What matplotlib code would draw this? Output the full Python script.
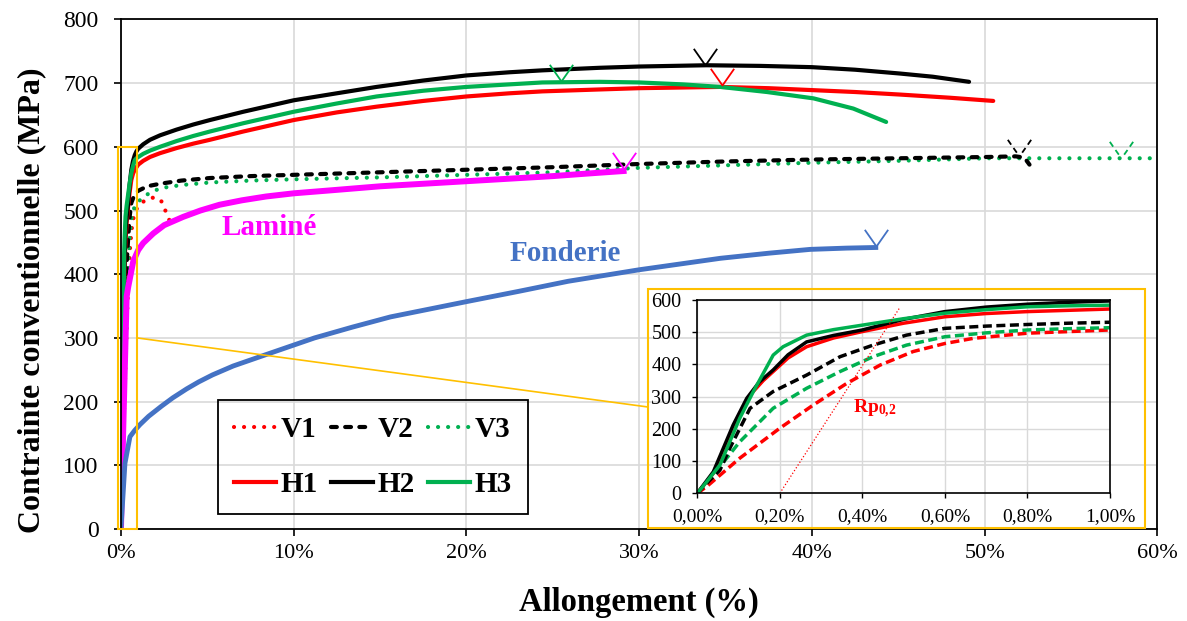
import matplotlib.pyplot as plt
from matplotlib.path import Path
from matplotlib.patches import Rectangle, ConnectionPatch
from matplotlib.lines import Line2D

plt.rcParams['font.family'] = ['Liberation Serif', 'DejaVu Serif']
plt.rcParams['mathtext.fontset'] = 'custom'
plt.rcParams['mathtext.rm'] = 'Liberation Serif'
plt.rcParams['mathtext.bf'] = 'Liberation Serif:bold'

# strain (%) / stress (MPa)
h1_x = [0, 0.039, 0.087, 0.128, 0.16, 0.184, 0.22, 0.265, 0.33, 0.4, 0.5, 0.6, 0.7, 0.8, 0.9, 1.0, 1.29, 1.68, 2.26, 3.22, 4.19,
        5.15, 7.08, 10, 12.5, 14.8, 17.5, 20, 22.5, 24.4, 27.7, 30, 34.7, 37.5, 40, 42.5, 45.1, 48, 50.5]
h1_y = [0, 62, 202, 305, 350, 378, 420, 455, 482, 502, 528, 548, 558, 564, 568, 572, 578, 584, 590, 598, 605,
        611, 624, 642, 654, 663, 672, 679, 684, 687, 690, 692, 694, 692, 689, 686, 682, 677, 672]
h2_x = [0, 0.039, 0.087, 0.12, 0.15, 0.184, 0.22, 0.265, 0.33, 0.4, 0.5, 0.6, 0.7, 0.8, 0.9, 1.0, 1.29, 1.68, 2.26, 3.22, 4.19,
        5.15, 7.08, 10, 12.5, 14.8, 17.5, 20, 22.5, 24.4, 27.7, 30, 33.9, 37, 40, 42.5, 45.1, 47, 49.1]
h2_y = [0, 67, 212, 295, 345, 383, 430, 470, 490, 507, 540, 564, 578, 587, 593, 597, 604, 611, 618, 627, 635,
        642, 655, 673, 684, 694, 704, 712, 717, 720, 724, 726, 728, 727, 725, 721, 715, 710, 702]
h3_x = [0, 0.023, 0.055, 0.103, 0.136, 0.184, 0.208, 0.265, 0.33, 0.4, 0.5, 0.6, 0.7, 0.8, 0.9, 1.0, 1.29, 1.68, 2.26, 3.22, 4.19,
        5.15, 7.08, 10, 12.5, 14.8, 17.5, 20, 22.5, 24.4, 27.7, 30, 32.5, 34.7, 37.4, 40.1, 42.4, 44.3]
h3_y = [0, 36, 88, 233, 316, 429, 455, 491, 508, 522, 542, 559, 570, 579, 582, 584, 589, 594, 600, 609, 617,
        624, 637, 655, 668, 679, 688, 694, 698, 701, 702, 701, 698, 694, 686, 676, 660, 639]
v1_x = [0, 0.023, 0.103, 0.2, 0.281, 0.362, 0.443, 0.523, 0.6, 0.669, 0.8, 1.0, 1.3, 1.58, 1.97, 2.36, 2.6, 2.8]
v1_y = [0, 21, 109, 202, 274, 341, 398, 440, 465, 481, 497, 507, 514, 518, 521, 514, 498, 485]
v2_x = [0, 0.023, 0.055, 0.079, 0.128, 0.184, 0.265, 0.346, 0.426, 0.507, 0.6, 0.7, 0.8, 0.9, 1.0, 1.3, 1.7, 2.26, 3.0,
        3.5, 5.15, 7.5, 10, 15, 20, 25, 30, 35, 40, 45, 50.1, 51.8, 52.3, 52.6]
v2_y = [0, 31, 72, 140, 264, 316, 367, 424, 460, 491, 512, 519, 524, 528, 531, 535, 539, 542, 545,
        547, 551, 554, 556, 560, 564, 568, 573, 577, 580, 582, 584, 585, 583, 572]
v3_x = [0, 0.055, 0.103, 0.184, 0.265, 0.346, 0.426, 0.507, 0.6, 0.7, 0.8, 0.9, 1.0, 1.5, 2.26, 3.5, 5.15, 7.5, 10, 15,
        20, 25, 30, 35, 40, 45, 50.1, 55, 60]
v3_y = [0, 83, 160, 264, 326, 378, 424, 460, 486, 498, 507, 511, 514, 525, 535, 540, 544, 547, 549, 552,
        556, 560, 567, 571, 575, 578, 582, 582, 582]
lam_x = [0, 0.13, 0.33, 0.42, 0.71, 1.0, 1.29, 1.87, 2.5, 3.6, 4.6, 5.7, 7.0, 8.4, 10, 12.3, 15, 17.5, 20, 22.5, 25, 27, 29.1]
lam_y = [0, 155, 365, 380, 420, 438, 449, 464, 477, 490, 500, 509, 516, 522, 527, 532, 538, 542, 546, 550, 554, 558, 562]
fon_x = [0, 0.23, 0.52, 0.8, 1.1, 1.6, 2.35, 3.0, 3.8, 4.5, 5.3, 6.5, 8.2, 9.7, 11.2, 13.4, 15.6, 17.8, 20, 23, 25.9,
         30, 34.7, 37.5, 39.9, 42, 43.7]
fon_y = [0, 103, 145, 155, 164, 177, 193, 206, 220, 231, 242, 256, 272, 286, 300, 317, 333, 345, 357, 373, 389,
         407, 425, 433, 439, 441, 442]

# rupture / UTS marks
uts = {'H1': (34.8, 697), 'H2': (33.8, 728), 'H3': (25.5, 703), 'V2': (52.0, 586),
       'V3': (57.9, 583), 'Lam': (29.1, 565), 'Fon': (43.7, 445)}

rp_x = [0.2, 0.49]
rp_y = [0, 575]

RED, BLACK, GREEN = '#FF0000', '#000000', '#00B050'
MAG, BLUE, GOLD, GRID = '#FF00FF', '#4472C4', '#FFC000', '#D9D9D9'

dot = (0, (0.01, 2.4))
dash_main = (0, (1.4, 2.0))

v_solid = Path([(-0.7, 1), (0, 0), (0.7, 1)], [Path.MOVETO, Path.LINETO, Path.LINETO])
v_dash = Path([(-0.7, 1), (-0.5, 0.71), (-0.36, 0.51), (-0.16, 0.23),
               (0.16, 0.23), (0.36, 0.51), (0.5, 0.71), (0.7, 1)],
              [Path.MOVETO, Path.LINETO] * 4)

fig = plt.figure(figsize=(11.87, 6.21), dpi=100)
ax = fig.add_axes([0.1019, 0.148, 0.8731, 0.8208])

ax.plot(v1_x, v1_y, color=RED, lw=3, ls=dot, dash_capstyle='round')
ax.plot(v3_x, v3_y, color=GREEN, lw=3, ls=dot, dash_capstyle='round')
ax.plot(v2_x, v2_y, color=BLACK, lw=3, ls=dash_main, dash_capstyle='round')
ax.plot(h1_x, h1_y, color=RED, lw=3, solid_capstyle='round', solid_joinstyle='round')
ax.plot(h2_x, h2_y, color=BLACK, lw=3, solid_capstyle='round', solid_joinstyle='round')
ax.plot(h3_x, h3_y, color=GREEN, lw=3, solid_capstyle='round', solid_joinstyle='round')
ax.plot(lam_x, lam_y, color=MAG, lw=4.3, solid_joinstyle='round')
ax.plot(fon_x, fon_y, color=BLUE, lw=3.5, solid_joinstyle='round')

for key, col, mk in [('H1', RED, v_solid), ('H2', BLACK, v_solid), ('H3', GREEN, v_solid),
                     ('V2', BLACK, v_dash), ('V3', GREEN, v_dash),
                     ('Lam', MAG, v_solid), ('Fon', BLUE, v_solid)]:
    ax.plot([uts[key][0]], [uts[key][1]], ls='none', marker=mk, ms=24,
            mfc='none', mec=col, mew=1.3)

ax.text(8.6, 474, 'Laminé', color=MAG, fontsize=21, fontweight='bold', ha='center', va='center')
ax.text(25.7, 432, 'Fonderie', color=BLUE, fontsize=21, fontweight='bold', ha='center', va='center')

ax.set_xlim(0, 60)
ax.set_ylim(0, 800)
ax.set_xticks(range(0, 61, 10))
ax.set_xticklabels([f'{v}%' for v in range(0, 61, 10)])
ax.set_yticks(range(0, 801, 100))
ax.grid(True, color=GRID, lw=1.2)
ax.set_axisbelow(True)
ax.tick_params(length=5, width=1.2)
ax.tick_params(axis='x', labelsize=16, pad=6)
ax.tick_params(axis='y', labelsize=17, pad=11)
for s in ax.spines.values():
    s.set_linewidth(1.3)
ax.set_xlabel('Allongement (%)', fontsize=23.5, fontweight='bold', labelpad=17)
ax.set_ylabel('Contrainte conventionnelle (MPa)', fontsize=23, fontweight='bold')
ax.yaxis.set_label_coords(-0.0725, 0.449)

# zoom box + link to inset
ax.add_patch(Rectangle((-0.15, 0), 1.1, 600, fill=False, ec=GOLD, lw=1.5, clip_on=False, zorder=5))
fig.patches.append(Rectangle((0.5459, 0.1498), 0.4187, 0.3849, fill=False, ec=GOLD, lw=1.5,
                             transform=fig.transFigure, figure=fig))
con = ConnectionPatch(xyA=(0.95, 300), coordsA=ax.transData,
                      xyB=(0.5459, 0.3446), coordsB=fig.transFigure, color=GOLD, lw=1.2)
fig.add_artist(con)

handles = [Line2D([], [], color=RED, lw=3, ls=dot, dash_capstyle='round'),
           Line2D([], [], color=RED, lw=3),
           Line2D([], [], color=BLACK, lw=3, ls=dash_main, dash_capstyle='round'),
           Line2D([], [], color=BLACK, lw=3),
           Line2D([], [], color=GREEN, lw=3, ls=dot, dash_capstyle='round'),
           Line2D([], [], color=GREEN, lw=3)]
labels = ['V1', 'H1', 'V2', 'H2', 'V3', 'H3']
leg = ax.legend(handles, labels, ncol=3, loc='lower left', bbox_to_anchor=(0.0936, 0.0294),
                borderaxespad=0, prop={'weight': 'bold', 'size': 21}, handlelength=1.45,
                handletextpad=0.15, columnspacing=0.45, labelspacing=0.95, borderpad=0.55,
                fancybox=False, facecolor='none', edgecolor='black', framealpha=1)
leg.get_frame().set_linewidth(1.3)

# inset
axi = fig.add_axes([0.5874, 0.2056, 0.3477, 0.3113], facecolor='none')
dash_in = (0, (2.6, 1.3))
axi.plot(v1_x, v1_y, color=RED, lw=2.5, ls=dash_in)
axi.plot(v3_x, v3_y, color=GREEN, lw=2.5, ls=dash_in)
axi.plot(v2_x, v2_y, color=BLACK, lw=2.5, ls=dash_in)
axi.plot(h1_x, h1_y, color=RED, lw=2.5, solid_joinstyle='round')
axi.plot(h2_x, h2_y, color=BLACK, lw=2.5, solid_joinstyle='round')
axi.plot(h3_x, h3_y, color=GREEN, lw=2.5, solid_joinstyle='round')
axi.plot(rp_x, rp_y, color=RED, lw=0.9, ls=':')
axi.text(0.378, 250, r'$\mathbf{Rp_{0{,}2}}$', color=RED, fontsize=14, va='baseline')
axi.set_xlim(0, 1)
axi.set_ylim(0, 600)
inset_ticks = [0, 0.2, 0.4, 0.6, 0.8, 1.0]
axi.set_xticks(inset_ticks)
axi.set_xticklabels([f'{v:.2f}%'.replace('.', ',') for v in inset_ticks])
axi.set_yticks(range(0, 601, 100))
axi.grid(True, color=GRID, lw=1)
axi.set_axisbelow(True)
axi.tick_params(length=3.5, width=1)
axi.tick_params(axis='x', labelsize=14, pad=7)
axi.tick_params(axis='y', labelsize=14.5, pad=8)
for s in axi.spines.values():
    s.set_linewidth(1.2)

fig.savefig('out.png', dpi=100)
